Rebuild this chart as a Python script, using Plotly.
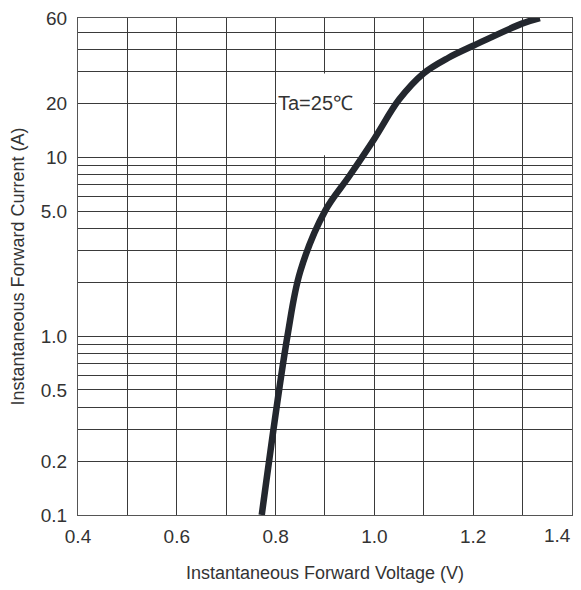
import math
import plotly.graph_objects as go

# Forward characteristic (V, A)
voltage = [0.772, 0.824, 0.850, 0.900, 0.950, 1.000, 1.050, 1.100, 1.150, 1.200, 1.300, 1.335]
current = [0.1, 1.0, 2.3, 5.0, 7.9, 12.7, 21, 29.5, 36, 42, 56, 60]

x_ticks = [0.4, 0.5, 0.6, 0.7, 0.8, 0.9, 1.0, 1.1, 1.2, 1.3, 1.4]
x_text = ["0.4", "", "0.6", "", "0.8", "", "1.0", "", "1.2", "", ""]
x_last_label = "1.4"   # drawn separately so it stays inside the page edge
y_ticks = [0.1, 0.2, 0.3, 0.4, 0.5, 0.6, 0.7, 0.8, 0.9, 1,
           2, 3, 4, 5, 6, 7, 8, 9, 10, 20, 30, 40, 50, 60]
y_text = ["0.1", "0.2", "", "", "0.5", "", "", "", "", "1.0",
          "", "", "", "5.0", "", "", "", "", "10", "20", "", "", "", "60"]

font_family = "Arial, Liberation Sans, sans-serif"
grid_color = "#3a3a3a"
text_color = "#333333"

fig = go.Figure()
fig.add_trace(go.Scatter(
    x=voltage, y=current, mode="lines",
    line=dict(color="#23272e", width=6.5, shape="spline", smoothing=1.0),
    hoverinfo="skip", showlegend=False,
))

# white label box behind the temperature note
fig.add_shape(type="rect", xref="x", yref="y",
              x0=0.802, x1=0.998, y0=10.25, y1=29.4,
              fillcolor="white", line=dict(width=0), layer="between")
fig.add_annotation(x=0.801, y=math.log10(20), xref="x", yref="y",
                   text="Ta=25℃", showarrow=False, xanchor="left",
                   font=dict(family=font_family, size=20, color=text_color))
# last x tick label, kept inside the visible page edge as in the reference
fig.add_annotation(x=x_ticks[-1], y=0, xref="x", yref="paper",
                   text=x_last_label, showarrow=False,
                   xanchor="right", yanchor="top", xshift=1, yshift=-8,
                   font=dict(family=font_family, size=19, color=text_color))

# the page body adds an 8px offset, so the figure is 8px smaller
fig.update_layout(
    width=573, height=582,
    margin=dict(l=70, r=9, t=10, b=75),
    paper_bgcolor="white", plot_bgcolor="white",
    font=dict(family=font_family, color=text_color),
)
fig.update_xaxes(
    range=[0.4, 1.4001], tickvals=x_ticks, ticktext=x_text, automargin=False,
    ticklabeloverflow="allow", ticklabelstandoff=4,
    showgrid=True, gridcolor=grid_color, gridwidth=1,
    showline=True, linecolor="#555555", linewidth=1, mirror=True,
    zeroline=False, ticks="", tickfont=dict(size=19, color=text_color),
    title=dict(text="Instantaneous Forward Voltage (V)",
               font=dict(size=18, color=text_color), standoff=20),
)
fig.update_yaxes(
    type="log", range=[-1.0001, math.log10(60) + 0.0002], automargin=False,
    tickvals=y_ticks, ticktext=y_text, ticklabelstandoff=6,
    ticklabeloverflow="allow",
    showgrid=True, gridcolor=grid_color, gridwidth=1,
    showline=True, linecolor="#555555", linewidth=1, mirror=True,
    zeroline=False, ticks="", tickfont=dict(size=19, color=text_color),
    title=dict(text="Instantaneous Forward Current (A)",
               font=dict(size=18, color=text_color), standoff=12),
)

fig.write_html("out.html")
